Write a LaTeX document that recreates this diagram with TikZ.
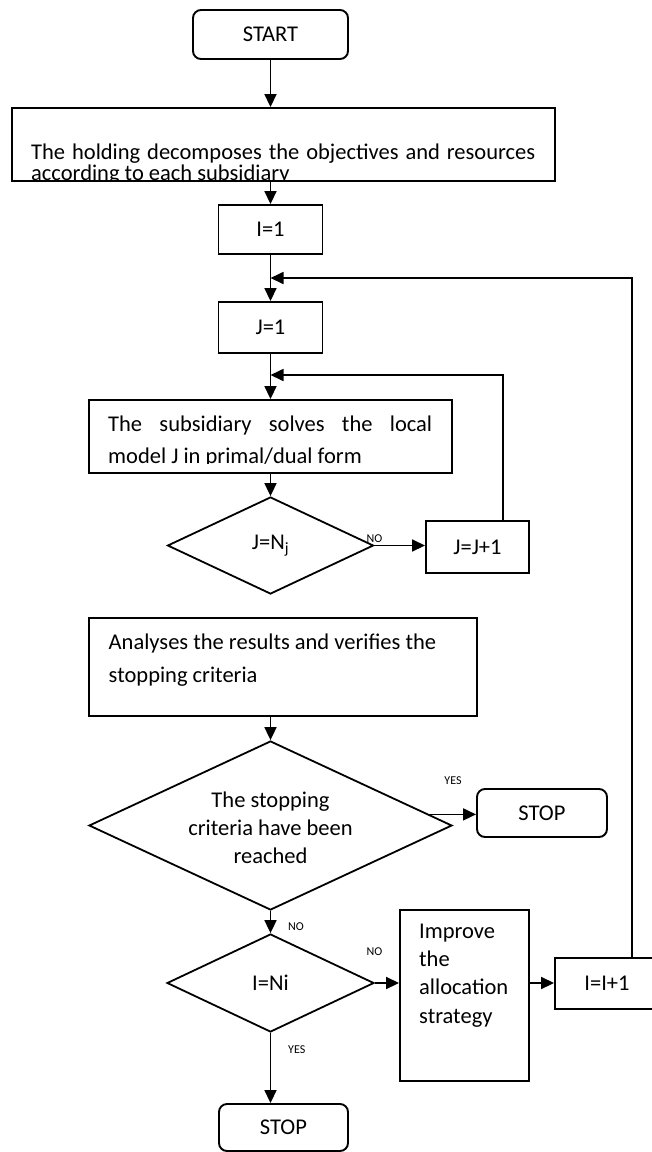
\documentclass[tikz,border=0pt]{standalone}
\usepackage{fontspec}
\setmainfont{Carlito}
\usetikzlibrary{shapes.geometric,arrows.meta}
\begin{document}
\begin{tikzpicture}[x=1pt,y=-1pt,
  every node/.style={font=\fontsize{22.5}{26}\selectfont},
  box/.style={draw,line width=1.9pt,rectangle,inner sep=0pt},
  rbox/.style={box,rounded corners=8pt},
  dia/.style={draw,line width=1.8pt,diamond,inner sep=0pt},
  txt/.style={inner sep=0pt,anchor=base west},
  ctxt/.style={inner sep=0pt,anchor=base},
  lbl/.style={inner sep=0pt,font=\fontsize{12}{14}\selectfont},
  arr/.style={line width=1.7pt,-{Triangle[length=13pt,width=12pt]}}
]
\useasboundingbox (0,0) rectangle (652,1152);
\fill[white] (0,0) rectangle (652,1152);

% boxes
\node[rbox,minimum width=155pt,minimum height=49pt] (start) at (270.5,34.5) {START};
\node[box,minimum width=543pt,minimum height=73pt] (hold) at (283.5,144.5) {};
\begin{scope}
\clip (12,108) rectangle (555,180);
\node[txt] (hold1) at (31,159.3) {\makebox[504pt][s]{The holding decomposes the objectives and resources}};
\node[txt] (hold2) at (31,180) {according to each subsidiary};
\end{scope}
\node[box,minimum width=104pt,minimum height=49pt] (ione) at (270.5,229.5) {I=1};
\node[box,minimum width=104pt,minimum height=51pt] (jone) at (270.5,327.5) {J=1};
\node[box,minimum width=363pt,minimum height=73pt] (sub) at (270.5,436.5) {};
\begin{scope}
\clip (89,400) rectangle (452,463);
\node[txt] (sub1) at (108,431) {\makebox[324pt][s]{The subsidiary solves the local}};
\node[txt] (sub2) at (108,463) {model J in primal/dual form};
\end{scope}
\node[dia,minimum width=206pt,minimum height=97pt] (dj) at (270.5,545.5) {J=N\textsubscript{j}};
\node[box,minimum width=103pt,minimum height=52pt] (jj) at (477.5,547) {J=J+1};
\node[box,minimum width=388pt,minimum height=98pt] (an) at (283,667) {};
\node[txt] (an1) at (108.5,649) {Analyses the results and verifies the};
\node[txt] (an2) at (108.5,682) {stopping criteria};
\node[dia,minimum width=363pt,minimum height=169pt] (d2) at (270.5,825.5) {};
\node[ctxt] (d2a) at (270.5,807) {The stopping};
\node[ctxt] (d2b) at (270.5,835) {criteria have been};
\node[ctxt] (d2c) at (270.5,863) {reached};
\node[rbox,minimum width=130pt,minimum height=48pt] (stopa) at (542,813) {STOP};
\node[dia,minimum width=207pt,minimum height=98pt] (ini) at (270.5,983) {I=Ni};
\node[box,minimum width=129pt,minimum height=171pt] (imp) at (464.5,995.5) {};
\node[txt] (imp1) at (419,938) {Improve};
\node[txt] (imp2) at (419,966.4) {the};
\node[txt] (imp3) at (419,994.8) {allocation};
\node[txt] (imp4) at (419,1023.2) {strategy};
\node[box,minimum width=104pt,minimum height=51pt] (itwo) at (607,983.5) {I=I+1};
\node[rbox,minimum width=129pt,minimum height=47pt] (stopb) at (283.5,1127.5) {STOP};

% labels
\node[lbl] (noa) at (374.5,538.5) {NO};
\node[lbl] (yesa) at (453,781) {YES};
\node[lbl,anchor=west] (nob) at (288,927) {NO};
\node[lbl] (noc) at (374.5,952) {NO};
\node[lbl,anchor=west] (yesb) at (288,1049.5) {YES};

% connectors
\draw[arr] (start.south) -- (start.south |- hold.north);
\draw[arr] (hold.south -| ione.north) -- (ione.north);
\draw[arr] (ione.south) -- (jone.north);
\draw[arr] (jone.south) -- (jone.south |- sub.north);
\draw[arr] (sub.south -| dj.north) -- (dj.north);
\draw[arr] (dj.east) -- (dj.east -| jj.west);
\coordinate (innerR) at (503,375);
\draw[arr] (jj.north -| innerR) -- (innerR) -- (innerR -| jone.south);
\draw[arr] (an.south -| d2.north) -- (d2.north);
\draw[arr] (d2.4.6) -- (d2.4.6 -| stopa.west);
\draw[arr] (d2.south) -- (ini.north);
\draw[arr] (ini.east) -- (ini.east -| imp.west);
\draw[arr] (ini.east -| imp.east) -- (ini.east -| itwo.west);
\draw[arr] (ini.south) -- (ini.south |- stopb.north);
\coordinate (outerR) at (632,278);
\draw[arr] (itwo.north -| outerR) -- (outerR) -- (outerR -| ione.south);
\end{tikzpicture}
\end{document}
